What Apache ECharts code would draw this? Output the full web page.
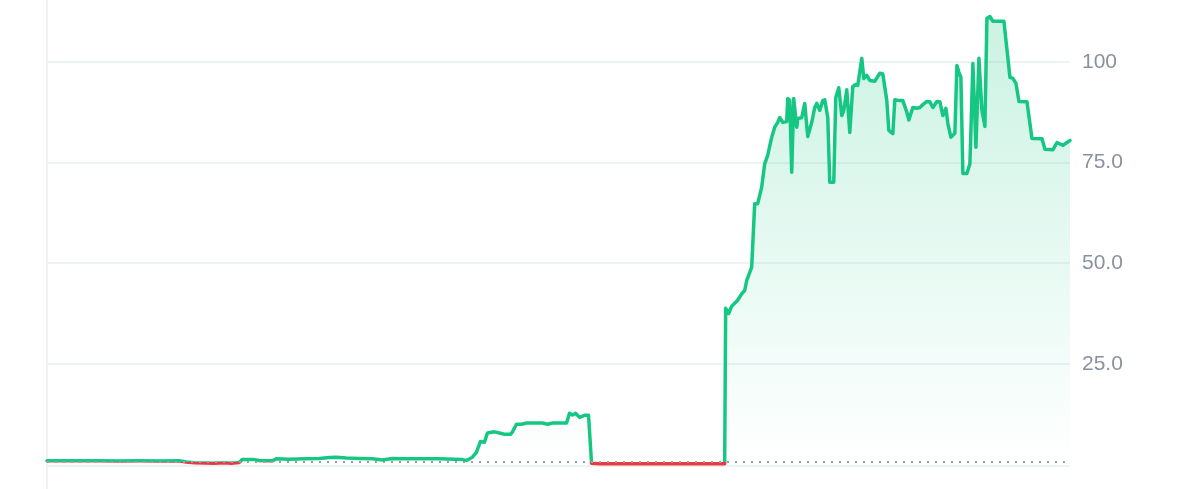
<!DOCTYPE html>
<html>
<head>
<meta charset="utf-8">
<script src="https://cdn.jsdelivr.net/npm/echarts@6/dist/echarts.min.js"></script>
<style>html,body{margin:0;padding:0;background:#fff}#c{width:1200px;height:489px}</style>
</head>
<body>
<div id="c"></div>
<script>
const days = [0,6,16,26,36,46,56,66,69.5,73.5,78.5,83.5,88.5,92,96,97.5,103.5,106,110,112.5,114.5,121,128.5,136,141,144.5,149.5,156,162.5,167.5,172.5,178.5,186,196,203.5,207.5,209.5,212.5,214.5,216.5,218.5,220,223.5,226,228.5,231.5,232.5,234.5,237,239.5,247.5,250,252.5,259.5,261,262.5,264,266,268.5,270.5,272,276,286,306,326,338.5,
339,340.5,342,345,347,348.5,349.5,352,353.5,355,357,358.5,360,362,363.5,365,366,367.5,369.5,370,371,372,373,374.5,375,377,378.5,380,382,383.5,384.5,386,387.5,388.5,390,391,393,394,395.5,397,398,399.5,401,402.5,404,405,407,408,409.5,411,413.5,416,417.5,419.5,420.5,422.5,423.5,426,427.5,429.5,430.5,432.5,434.5,436,437.5,439.5,441,442.5,444.5,446,447.5,449,450,451.5,453.5,454.5,455.5,456.5,457.5,459.5,461,462.5,464,465.5,467,468.5,469.5,471,472.5,475,478,481,482.5,484,485.5,489.5,492,497,498.5,502.5,504.5,507.5,511];
const prices = [0.9,0.9,0.92,0.9,0.88,0.9,0.88,0.9,0.6,0.4,0.35,0.3,0.45,0.3,0.5,1.2,1.2,1.0,0.9,0.9,1.4,1.3,1.4,1.5,1.7,1.8,1.6,1.5,1.4,1.1,1.5,1.4,1.4,1.4,1.3,1.2,1.0,1.8,3.0,5.7,5.5,7.8,8.1,7.8,7.5,7.5,8.1,10.0,10.0,10.3,10.3,10.0,10.3,10.3,12.7,12.3,12.7,11.7,12.2,12.2,0.3,0.2,0.2,0.2,0.2,0.2,
38.8,37.5,39.3,40.8,42.4,43.2,45.7,49.0,64.8,64.8,68.9,74.7,76.8,81.3,83.8,85,86.2,85.0,85.2,90.9,90.5,72.6,90.9,83.8,85.9,86.2,89.7,81.5,85,88.7,89.7,88,90.4,90.6,86.2,70.1,70.1,91.2,93.6,86.7,88,93.1,82.5,93.9,94.4,94.2,100.9,95.9,96.7,95.4,95.2,97.2,97,90.4,83,82.2,90.6,90.4,90.4,87.5,85.6,88.7,88.5,88.7,89.4,90.2,90.1,88.7,90.2,90.1,86.7,88.5,84.7,81.3,82.3,99.1,97.5,96.2,72.3,72.3,74.7,99.6,78.8,100.9,88,84,110.8,111.3,110.1,110.1,110.1,96.2,95.9,94.7,90.2,90.1,81,80.9,78.3,78.2,80,79.3,80.5];
const baseline = 0.7;
const tickValues = [-0.3, 25, 50, 75, 100];
const labelValues = [25, 50, 75, 100];

const GREEN = '#16c784', RED = '#ea3943';
const seriesData = days.map((d, i) => [d, prices[i]]);

const chart = echarts.init(document.getElementById('c'), null, {renderer: 'canvas'});
chart.setOption({
  animation: false,
  backgroundColor: '#fff',
  grid: {left: 47, right: 130, top: 0, bottom: 0, containLabel: false},
  xAxis: {type: 'value', min: 0, max: 511, show: false},
  yAxis: [{
    type: 'value', position: 'right', min: -6.1, max: 115.4,
    axisLine: {show: true, lineStyle: {color: '#eff2f5', width: 2}},
    axisTick: {show: false, customValues: tickValues},
    axisLabel: {
      customValues: labelValues, margin: 12, color: '#8a919e', fontSize: 21,
      fontFamily: 'Liberation Sans, Arial, sans-serif',
      formatter: v => v >= 100 ? String(v) : v.toFixed(1)
    },
    splitLine: {show: true, lineStyle: {color: '#eff2f5', width: 2}}
  }, {
    type: 'value', position: 'left', min: -6.1, max: 115.4,
    axisLine: {show: true, lineStyle: {color: '#eff2f5', width: 2}},
    axisTick: {show: false}, axisLabel: {show: false}, splitLine: {show: false}
  }],
  visualMap: {
    show: false, type: 'piecewise', dimension: 1, seriesIndex: 0,
    pieces: [{min: -10, max: baseline, color: RED}, {min: baseline, max: 200, color: GREEN}]
  },
  series: [{
    type: 'line', data: seriesData, yAxisIndex: 0, showSymbol: false, symbol: 'none',
    lineStyle: {width: 3.5, join: 'round', cap: 'round'},
    areaStyle: {
      color: new echarts.graphic.LinearGradient(0, 0, 0, 1, [
        {offset: 0, color: 'rgba(22,199,132,0.32)'},
        {offset: 1, color: 'rgba(22,199,132,0.0)'}
      ])
    },
    markLine: {
      silent: true, symbol: 'none', label: {show: false},
      lineStyle: {color: '#9aa1ab', type: [2, 6], width: 2},
      data: [{yAxis: baseline}]
    },
    z: 3
  }]
});
</script>
</body>
</html>
